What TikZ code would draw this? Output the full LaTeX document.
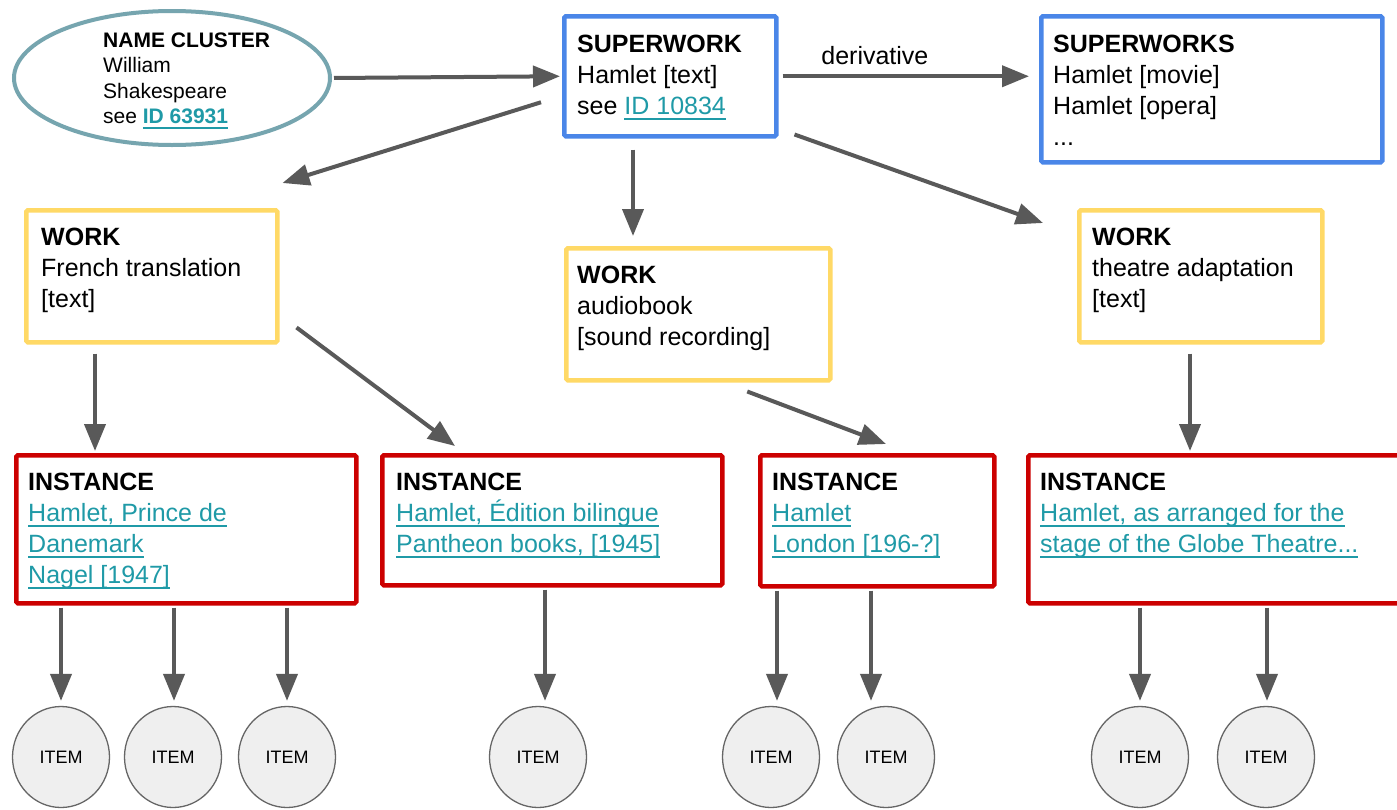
\documentclass[tikz,border=0pt]{standalone}
\usepackage{fontspec}
\setmainfont{Liberation Sans}
\usetikzlibrary{arrows.meta,shapes.geometric}

\definecolor{superc}{HTML}{4A86E8}
\definecolor{workc}{HTML}{FFD966}
\definecolor{instc}{HTML}{CC0000}
\definecolor{clusterc}{HTML}{76A5AF}
\definecolor{arrowc}{HTML}{595959}
\definecolor{linkc}{HTML}{1F9AA7}
\definecolor{itemfill}{HTML}{EFEFEF}
\definecolor{itemline}{HTML}{666666}

% underlined link text
\newcommand\ulink[1]{{\color{linkc}\setbox0\hbox{#1}\rlap{\rule[-5pt]{\wd0}{1.8pt}}\box0}}

\begin{document}
\begin{tikzpicture}[x=1pt,y=-1pt,
  box/.style={draw, line width=4.5pt, rounded corners=1.5pt, anchor=north west, inner sep=0pt},
  superbox/.style={box, draw=superc},
  workbox/.style={box, draw=workc},
  instbox/.style={box, draw=instc},
  cluster/.style={ellipse, draw=clusterc, line width=4pt, minimum width=316pt, minimum height=134pt, inner sep=0pt},
  item/.style={ellipse, draw=itemline, fill=itemfill, line width=1.3pt, minimum width=97pt, minimum height=101pt, inner sep=0pt, font=\fontsize{18}{20}\selectfont},
  txt/.style={anchor=north west, inner sep=0pt, align=left, font=\fontsize{25}{31}\selectfont},
  arr/.style={draw=arrowc, line width=4pt, -{Triangle[length=27pt,width=21pt]}, color=arrowc},
]
\clip (0,0) rectangle (1397,809);
\fill[white] (0,0) rectangle (1397,809);

% name cluster
\node[cluster] (nc) at (172,78) {};
\node[txt, font=\fontsize{21}{25.5}\selectfont] (nct) at (103,32.5)
  {\textbf{NAME CLUSTER}\\William\\Shakespeare\\see \ulink{\textbf{ID 63931}}};

% superworks
\node[superbox, minimum width=212pt, minimum height=120pt] (sw) at (562,14) {};
\node[txt] (swt) at (577,35) {\textbf{SUPERWORK}\\Hamlet [text]\\see \ulink{ID 10834}};
\node[superbox, minimum width=341pt, minimum height=146pt] (sws) at (1039,14) {};
\node[txt] (swst) at (1053,35) {\textbf{SUPERWORKS}\\Hamlet [movie]\\Hamlet [opera]\\...};

% works
\node[workbox, minimum width=251pt, minimum height=132pt] (wfr) at (24,208) {};
\node[txt] (wfrt) at (41,228) {\textbf{WORK}\\French translation\\{[text]}};
\node[workbox, minimum width=264pt, minimum height=132pt] (wab) at (564,246) {};
\node[txt] (wabt) at (577,266) {\textbf{WORK}\\audiobook\\{[sound recording]}};
\node[workbox, minimum width=243pt, minimum height=132pt] (wth) at (1077,208) {};
\node[txt] (wtht) at (1092,228) {\textbf{WORK}\\theatre adaptation\\{[text]}};

% instances
\node[instbox, minimum width=340pt, minimum height=148pt] (i1) at (14,453) {};
\node[txt] (i1t) at (28,473) {\textbf{INSTANCE}\\\ulink{Hamlet, Prince de}\\\ulink{Danemark}\\\ulink{Nagel [1947]}};
\node[instbox, minimum width=340pt, minimum height=130pt] (i2) at (380,453) {};
\node[txt] (i2t) at (396,473) {\textbf{INSTANCE}\\\ulink{Hamlet, Édition bilingue}\\\ulink{Pantheon books, [1945]}};
\node[instbox, minimum width=234pt, minimum height=131pt] (i3) at (758,453) {};
\node[txt] (i3t) at (772,473) {\textbf{INSTANCE}\\\ulink{Hamlet}\\\ulink{London [196-?]}};
\node[instbox, minimum width=390pt, minimum height=148pt] (i4) at (1026,453) {};
\node[txt] (i4t) at (1040,473) {\textbf{INSTANCE}\\\ulink{Hamlet, as arranged for the}\\\ulink{stage of the Globe Theatre...}};

% items
\node[item] (it1) at (61,757) {ITEM};
\node[item] (it2) at (173,757) {ITEM};
\node[item] (it3) at (287,757) {ITEM};
\node[item] (it4) at (538,757) {ITEM};
\node[item] (it5) at (771,757) {ITEM};
\node[item] (it6) at (886,757) {ITEM};
\node[item] (it7) at (1140,757) {ITEM};
\node[item] (it8) at (1266,757) {ITEM};

% connectors
\draw[arr, shorten <=2pt, shorten >=2pt] (nc.east) -- (sw.west);
\draw[arr, shorten <=4pt, shorten >=10pt] (sw.east) -- (sw.east -| sws.west)
  node[pos=0.37, anchor=south, inner sep=0pt, yshift=10pt, text=black, font=\fontsize{25}{31}\selectfont] (der) {derivative};
\draw[arr] ([xshift=-21pt,yshift=-26pt]sw.west) -- ([xshift=3pt,yshift=25pt]wfr.north east);
\draw[arr] ([xshift=71pt,yshift=-11pt]sw.south west) -- ([xshift=69pt,yshift=10pt]wab.north west);
\draw[arr] ([xshift=16pt,yshift=4pt]sw.south east) -- ([xshift=-34pt,yshift=-15pt]wth.north west);

\draw[arr] ([xshift=71pt,yshift=-9pt]wfr.south west) -- ([xshift=81pt,yshift=2pt]i1.north west);
\draw[arr] ([xshift=17pt,yshift=17pt]wfr.south east) -- ([xshift=75pt,yshift=7pt]i2.north west);
\draw[arr] ([xshift=49pt,yshift=-9pt]wab.south) -- ([xshift=128pt,yshift=9pt]i3.north west);
\draw[arr] ([xshift=113pt,yshift=-9pt]wth.south west) -- ([xshift=164pt,yshift=2pt]i4.north west);

% instance to item connectors, with the small sideways offsets of some arrows
\foreach \it/\ins/\dx in {it1/i1/0, it2/i1/1, it3/i1/0, it4/i2/7, it5/i3/6, it6/i3/-15, it7/i4/0, it8/i4/1}
  \draw[arr, shorten <=2pt, shorten >=5pt, transform canvas={xshift=\dx pt}] (\it.north |- \ins.south) -- (\it.north);
\end{tikzpicture}
\end{document}
